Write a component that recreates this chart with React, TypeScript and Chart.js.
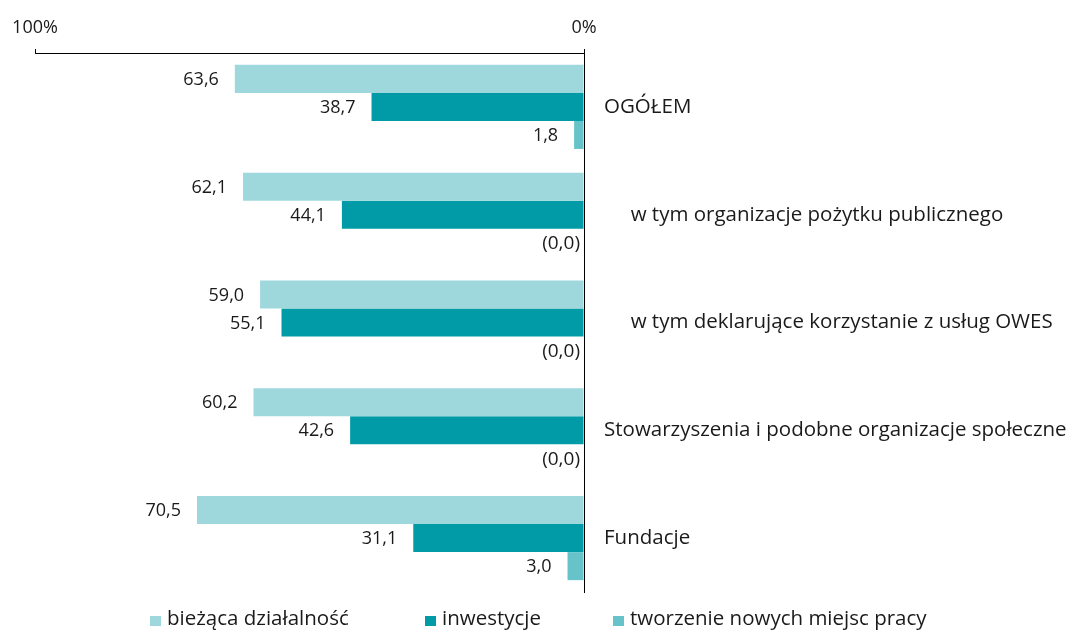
import React, { useEffect, useRef } from "react";
import { Chart, registerables } from "chart.js";

Chart.register(...registerables);

const categories = [
  "OGÓŁEM",
  "     w tym organizacje pożytku publicznego",
  "     w tym deklarujące korzystanie z usług OWES",
  "Stowarzyszenia i podobne organizacje społeczne",
  "Fundacje",
];
const seriesNames = ["bieżąca działalność", "inwestycje", "tworzenie nowych miejsc pracy"];
const biezacaDzialalnosc = [63.6, 62.1, 59.0, 60.2, 70.5];
const inwestycje = [38.7, 44.1, 55.1, 42.6, 31.1];
const noweMiejscaPracy = [1.8, 0.0, 0.0, 0.0, 3.0];
const axisTickValues = [0, 100];

const COLORS = ["#9ed8dc", "#009ba6", "#65c3c9"];
const FONT_FAMILY = "'Open Sans', 'Noto Sans', sans-serif";
const NUM_SIZE = 18;
const LABEL_SIZE = 20.5;
const TEXT = "#1a1a1a";
const NUM_FONT = `${NUM_SIZE}px ${FONT_FAMILY}`;
const LABEL_FONT = `${LABEL_SIZE}px ${FONT_FAMILY}`;

const fmt = (v: number) => v.toFixed(1).replace(".", ",");

const valueLabels = {
  id: "valueLabels",
  afterDatasetsDraw(chart: any) {
    const ctx = chart.ctx;
    const zeroX = chart.scales.x.getPixelForValue(0);
    ctx.save();
    ctx.fillStyle = TEXT;
    ctx.textAlign = "right";
    ctx.textBaseline = "middle";
    chart.data.datasets.forEach((ds: any, i: number) => {
      const meta = chart.getDatasetMeta(i);
      meta.data.forEach((bar: any, j: number) => {
        const v = ds.data[j] as number;
        if (v === 0) {
          ctx.font = `${NUM_SIZE + 1}px ${FONT_FAMILY}`;
          ctx.fillText("(0,0)", zeroX - 4, bar.y + 1);
        } else {
          ctx.font = NUM_FONT;
          ctx.fillText(fmt(v), bar.x - 16, bar.y + 1);
        }
      });
    });
    ctx.restore();
  },
};

const legendXs = [150, 425, 613];
const customLegend = {
  id: "customLegend",
  afterDraw(chart: any) {
    const ctx = chart.ctx;
    const baseline = 625;
    ctx.save();
    ctx.font = LABEL_FONT;
    ctx.textAlign = "left";
    ctx.textBaseline = "alphabetic";
    chart.data.datasets.forEach((ds: any, i: number) => {
      const x = legendXs[i];
      ctx.fillStyle = ds.backgroundColor;
      ctx.fillRect(x, 616, 11, 10);
      ctx.fillStyle = TEXT;
      ctx.fillText(ds.label, x + 17, baseline);
    });
    ctx.restore();
  },
};

export default function App() {
  const ref = useRef<HTMLCanvasElement | null>(null);
  useEffect(() => {
    if (!ref.current) return;
    const chart = new Chart(ref.current, {
      type: "bar",
      data: {
        labels: categories,
        datasets: [
          { label: seriesNames[0], data: biezacaDzialalnosc, backgroundColor: COLORS[0] },
          { label: seriesNames[1], data: inwestycje, backgroundColor: COLORS[1] },
          { label: seriesNames[2], data: noweMiejscaPracy, backgroundColor: COLORS[2] },
        ],
      },
      options: {
        indexAxis: "y",
        animation: false,
        responsive: false,
        devicePixelRatio: 1,
        layout: { padding: { left: 35, right: 0, top: 0, bottom: 39 } },
        datasets: { bar: { categoryPercentage: 0.78, barPercentage: 1 } },
        plugins: { legend: { display: false }, tooltip: { enabled: false } },
        scales: {
          x: {
            position: "top",
            reverse: true,
            min: 0,
            max: 100,
            afterBuildTicks: (scale: any) => {
              scale.ticks = axisTickValues.map((v) => ({ value: v }));
            },
            afterFit: (scale: any) => {
              scale.height = 53;
            },
            ticks: {
              font: { family: FONT_FAMILY, size: NUM_SIZE },
              color: TEXT,
              padding: 10,
              maxRotation: 0,
              callback: (v: any) => `${v}%`,
            },
            grid: {
              drawOnChartArea: false,
              drawTicks: true,
              tickLength: 4,
              color: "#000",
              lineWidth: 1,
            },
            border: { display: true, color: "#000", width: 1 },
          },
          y: {
            position: "right",
            afterFit: (scale: any) => {
              scale.width = 1077 - 584;
            },
            ticks: {
              font: { family: FONT_FAMILY, size: LABEL_SIZE },
              color: TEXT,
              padding: 20,
              crossAlign: "near",
            },
            grid: { display: false, drawTicks: false },
            border: { display: true, color: "#000", width: 1 },
          },
        },
      },
      plugins: [valueLabels, customLegend],
    } as any);
    return () => chart.destroy();
  }, []);
  return (
    <div style={{ position: "fixed", left: 0, top: 0, width: 1077, height: 631, background: "#fff" }}>
      <canvas ref={ref} width={1077} height={631} style={{ width: 1077, height: 631 }} />
    </div>
  );
}
